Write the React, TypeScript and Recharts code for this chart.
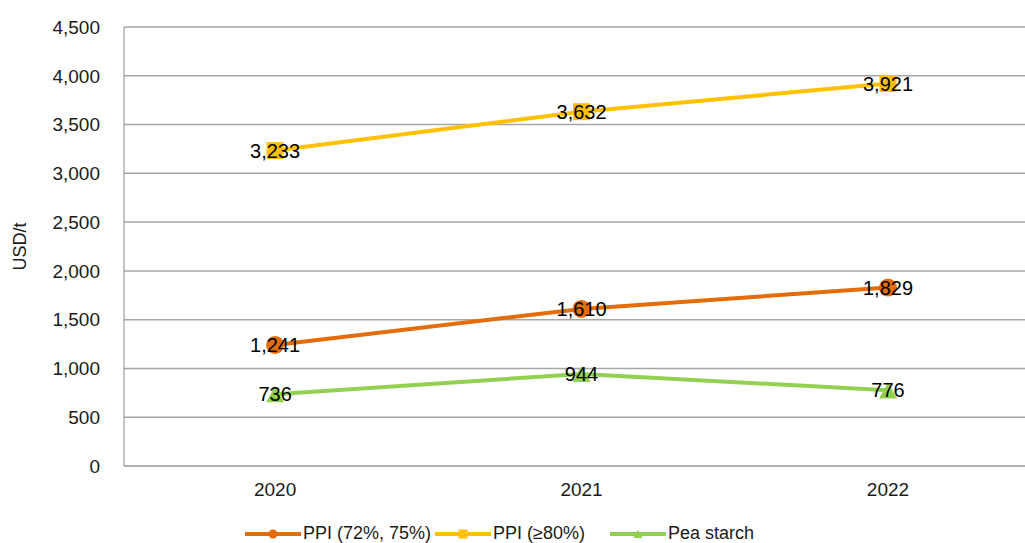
import { CartesianGrid, LabelList, Legend, Line, LineChart, XAxis, YAxis } from "recharts";

const years = [2020, 2021, 2022];
const ppiLow = [1241, 1610, 1829];
const ppiHigh = [3233, 3632, 3921];
const peaStarch = [736, 944, 776];
const yTicks = [0, 500, 1000, 1500, 2000, 2500, 3000, 3500, 4000, 4500];

const FONT = "'Liberation Sans', Arial, sans-serif";
const ORANGE = "#E46C0A";
const YELLOW = "#FFC000";
const GREEN = "#92D050";

const data = years.map((y, i) => ({
  year: y,
  low: ppiLow[i],
  high: ppiHigh[i],
  starch: peaStarch[i],
}));

const fmt = (v: number) => v.toLocaleString("en-US");

type Shape = "circle" | "square" | "triangle";

function Marker({ cx, cy, shape, color, size }: { cx: number; cy: number; shape: Shape; color: string; size: number }) {
  if (shape === "circle") return <circle cx={cx} cy={cy} r={size / 2} fill={color} />;
  if (shape === "square")
    return <rect x={cx - size / 2} y={cy - size / 2} width={size} height={size} fill={color} />;
  const h = size * 0.9;
  return (
    <polygon
      points={`${cx},${cy - h / 2} ${cx + size / 2},${cy + h / 2} ${cx - size / 2},${cy + h / 2}`}
      fill={color}
    />
  );
}

const dotFor = (shape: Shape, color: string, size: number) => (props: any) =>
  <Marker key={`${shape}-${props.index}`} cx={props.cx} cy={props.cy} shape={shape} color={color} size={size} />;

const legendItems: { name: string; color: string; shape: Shape }[] = [
  { name: "PPI (72%, 75%)", color: ORANGE, shape: "circle" },
  { name: "PPI (≥80%)", color: YELLOW, shape: "square" },
  { name: "Pea starch", color: GREEN, shape: "triangle" },
];
// slot widths so each legend entry starts where the original one does
const legendSlots = [190, 175, 200];

function LegendContent() {
  return (
    <div style={{ height: 30, display: "flex", alignItems: "center", paddingLeft: 245, paddingTop: 11, boxSizing: "border-box", fontFamily: FONT, fontSize: 18, color: "#1a1a1a" }}>
      {legendItems.map((it, i) => (
        <div key={it.name} style={{ display: "flex", alignItems: "center", width: legendSlots[i], whiteSpace: "nowrap" }}>
          <svg width={56} height={16}>
            <line x1={0} y1={8} x2={56} y2={8} stroke={it.color} strokeWidth={4} />
            <Marker cx={28} cy={8} shape={it.shape} color={it.color} size={9} />
          </svg>
          <span style={{ marginLeft: 2 }}>{it.name}</span>
        </div>
      ))}
    </div>
  );
}

export default function App() {
  return (
    <div style={{ position: "fixed", left: 0, top: 0, width: 1025, height: 543, overflow: "hidden", background: "#fff" }}>
      <LineChart width={1025} height={543} data={data} margin={{ top: 27, right: 0, bottom: 0, left: 0 }}>
        <CartesianGrid vertical={false} stroke="#a6a6a6" strokeWidth={1.5} />
        <XAxis
          dataKey="year"
          type="number"
          domain={[2019.507, 2022.447]}
          ticks={years}
          height={47}
          tickSize={0}
          tickMargin={17}
          stroke="#a6a6a6"
          tick={{ fontSize: 19, fill: "#1a1a1a", fontFamily: FONT }}
          allowDataOverflow
        />
        <YAxis
          domain={[0, 4500]}
          ticks={yTicks}
          width={124}
          tickSize={0}
          tickMargin={24}
          stroke="#8c8c8c"
          tickFormatter={fmt}
          tick={{ fontSize: 19, fill: "#1a1a1a", fontFamily: FONT }}
          label={{
            content: (p: any) => {
              const vb = p.viewBox;
              const cy = vb.y + vb.height / 2;
              return (
                <text x={20} y={cy} transform={`rotate(-90 20 ${cy})`} textAnchor="middle" dominantBaseline="central" fontSize={18} fill="#1a1a1a" fontFamily={FONT}>
                  USD/t
                </text>
              );
            },
          }}
        />
        <Legend verticalAlign="bottom" content={<LegendContent />} wrapperStyle={{ left: 0, width: 1025 }} />
        <Line dataKey="low" stroke={ORANGE} strokeWidth={4} dot={dotFor("circle", ORANGE, 18)} isAnimationActive={false}>
          <LabelList dataKey="low" position="center" formatter={fmt} fill="#000" fontSize={20} fontFamily={FONT} />
        </Line>
        <Line dataKey="high" stroke={YELLOW} strokeWidth={4} dot={dotFor("square", YELLOW, 17)} isAnimationActive={false}>
          <LabelList dataKey="high" position="center" formatter={fmt} fill="#000" fontSize={20} fontFamily={FONT} />
        </Line>
        <Line dataKey="starch" stroke={GREEN} strokeWidth={4} dot={dotFor("triangle", GREEN, 18)} isAnimationActive={false}>
          <LabelList dataKey="starch" position="center" formatter={fmt} fill="#000" fontSize={20} fontFamily={FONT} />
        </Line>
      </LineChart>
    </div>
  );
}
